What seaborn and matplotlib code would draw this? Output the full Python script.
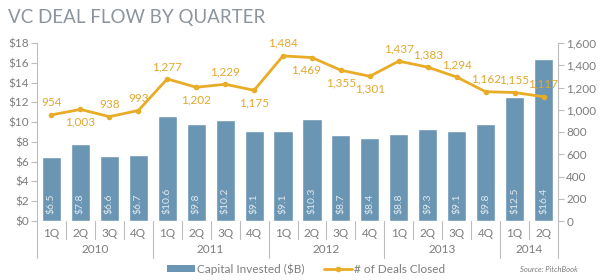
import matplotlib
matplotlib.use("Agg")
import matplotlib.pyplot as plt
import matplotlib.transforms as mtransforms
from matplotlib.patches import Patch
from matplotlib.lines import Line2D
import seaborn as sns
import pandas as pd

# data
quarters = ["1Q", "2Q", "3Q", "4Q", "1Q", "2Q", "3Q", "4Q", "1Q", "2Q", "3Q", "4Q",
            "1Q", "2Q", "3Q", "4Q", "1Q", "2Q"]
years = ["2010", "2011", "2012", "2013", "2014"]
year_quarters = [4, 4, 4, 4, 2]
capital = [6.5, 7.8, 6.6, 6.7, 10.6, 9.8, 10.2, 9.1, 9.1, 10.3, 8.7, 8.4,
           8.8, 9.3, 9.1, 9.8, 12.5, 16.4]
deals = [954, 1003, 938, 993, 1277, 1202, 1229, 1175, 1484, 1469, 1355, 1301,
         1437, 1383, 1294, 1162, 1155, 1117]

# where each deal label sits (a = above, b = below)
label_side = ["a", "b", "a", "a", "a", "b", "a", "b", "a", "b", "b", "b",
              "a", "a", "a", "a", "a", "a"]

bar_color = "#6a96b4"
line_color = "#e8ac26"
grey = "#7d7d7d"
spine_grey = "#bdbdbd"

df = pd.DataFrame({"pos": range(len(capital)), "capital": capital, "deals": deals})

sns.set_style("white")
plt.rcParams["font.family"] = ["Lato", "DejaVu Sans"]

fig = plt.figure(figsize=(6, 2.8), dpi=100)
ax = fig.add_axes([37 / 600, 1 - 221 / 280, 521 / 600, 178 / 280])

sns.barplot(data=df, x="pos", y="capital", color=bar_color, saturation=1,
            width=0.66, ax=ax)
ax.set_xlim(-0.5, len(capital) - 0.5)
ax.set_ylim(0, 18)
ax.set_yticks(range(0, 19, 2))
ax.set_yticklabels([f"${v}" for v in range(0, 19, 2)])
ax.set_xlabel("")
ax.set_ylabel("")
ax.set_xticks([])

for i, v in enumerate(capital):
    ax.text(i, 0.7, f"${v}", rotation=90, ha="center", va="bottom",
            color="#dfe8ef", fontsize=7.5)

ax2 = ax.twinx()
sns.lineplot(data=df, x="pos", y="deals", color=line_color, linewidth=2,
             marker="o", markersize=4, markeredgewidth=0, ax=ax2)
ax2.set_ylim(0, 1600)
ax2.set_yticks(range(0, 1601, 200))
ax2.set_yticklabels([f"{v:,}" for v in range(0, 1601, 200)])
ax2.set_ylabel("")
ax2.set_xlabel("")
ax2.set_xlim(-0.5, len(capital) - 0.5)

for i, (v, s) in enumerate(zip(deals, label_side)):
    dy = 9 if s == "a" else -9
    dx = -4 if i == 9 else 0
    ax2.annotate(f"{v:,}", (i, v), xytext=(dx, dy), textcoords="offset points",
                 ha="center", va="center", color="#e2a82c", fontsize=8.5)

for a in (ax, ax2):
    for side in ("top", "bottom"):
        a.spines[side].set_visible(False)
    for side in ("left", "right"):
        a.spines[side].set_color(spine_grey)
        a.spines[side].set_linewidth(0.8)
    a.tick_params(axis="y", colors=grey, labelsize=8.5, length=4, width=0.8,
                  direction="out", pad=2)
    a.tick_params(axis="y", color=spine_grey)
ax.spines["right"].set_visible(False)
ax2.spines["left"].set_visible(False)

# baseline and category axis
ax.axhline(0, color=spine_grey, linewidth=0.8)
trans = mtransforms.blended_transform_factory(ax.transData, ax.transAxes)
n = len(capital)
ax.plot([-0.5, -0.5], [0, -0.21], transform=trans, color=spine_grey, lw=0.8, clip_on=False)
ax.plot([n - 0.5, n - 0.5], [0, -0.21], transform=trans, color=spine_grey, lw=0.8, clip_on=False)
bounds = []
start = 0
for k in year_quarters:
    start += k
    bounds.append(start - 0.5)
for i in range(n - 1):
    x = i + 0.5
    low = -0.21 if x in bounds else -0.10
    ax.plot([x, x], [0, low], transform=trans, color=spine_grey, lw=0.8, clip_on=False)
for i, q in enumerate(quarters):
    ax.text(i, -0.068, q, transform=trans, ha="center", va="center",
            color=grey, fontsize=8.5)
start = 0
for y, k in zip(years, year_quarters):
    ax.text(start + (k - 1) / 2, -0.162, y, transform=trans, ha="center",
            va="center", color=grey, fontsize=8.5)
    start += k

fig.text(8 / 600, 1 - 17 / 280, "VC DEAL FLOW BY QUARTER", ha="left",
         va="center", color="#8c949d", fontsize=13.5)

handles = [Patch(facecolor=bar_color, edgecolor="none"),
           Line2D([], [], color=line_color, lw=2, marker="o", markersize=3)]
fig.legend(handles, ["Capital Invested ($B)", "# of Deals Closed"], ncol=2,
           loc="center", bbox_to_anchor=(306 / 600, 1 - 269 / 280), frameon=False,
           fontsize=8.5, labelcolor=grey, handlelength=2.4, handleheight=0.5,
           handletextpad=0.2, columnspacing=1.6)

fig.text(578 / 600, 1 - 269 / 280, "Source: PitchBook", ha="right", va="center",
         color=grey, fontsize=5.5, style="italic")

fig.savefig("out.png", dpi=100)
